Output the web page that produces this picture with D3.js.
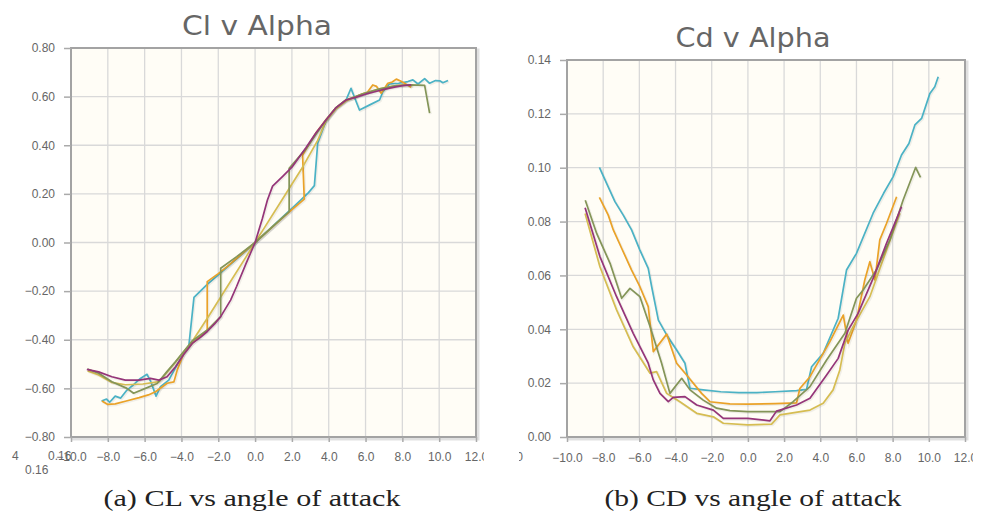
<!DOCTYPE html>
<html>
<head>
<meta charset="utf-8">
<script src="https://cdn.jsdelivr.net/npm/d3@7"></script>
<style>
  body { margin: 0; background: #fff; }
  svg { display: block; }
  .tick text { font-family: "Liberation Sans", Arial, sans-serif; font-size: 12px; fill: #666; }
</style>
</head>
<body>
<div id="chart"></div>
<script>
// angle of attack ticks
var alphaTicks = [-10, -8, -6, -4, -2, 0, 2, 4, 6, 8, 10, 12];
var clTicks = [-0.8, -0.6, -0.4, -0.2, 0, 0.2, 0.4, 0.6, 0.8];
var cdTicks = [0, 0.02, 0.04, 0.06, 0.08, 0.10, 0.12, 0.14];

var seriesColors = ["#4bb2c5", "#eaa228", "#d6bd52", "#849558", "#953579"];

// Cl v Alpha, [alpha, Cl]
var clTeal = [[-8.34,-0.652],[-8.07,-0.644],[-7.9,-0.657],[-7.6,-0.632],[-7.3,-0.64],[-6.96,-0.607],[-6.6,-0.585],
  [-6.23,-0.559],[-5.87,-0.542],[-5.68,-0.57],[-5.38,-0.632],[-5.14,-0.593],[-4.69,-0.566],[-4.32,-0.515],
  [-3.87,-0.455],[-3.6,-0.425],[-3.32,-0.226],[-2.6,-0.172],[-2,-0.133],[-1.5,-0.1],[-1,-0.067],[-0.5,-0.034],
  [0,0],[0.5,0.035],[1,0.07],[1.5,0.105],[2,0.14],[2.49,0.175],[2.9,0.205],[3.22,0.234],[3.4,0.408],
  [3.85,0.5],[4.4,0.555],[4.94,0.586],[5.21,0.634],[5.67,0.545],[6.2,0.565],[6.76,0.586],[6.94,0.62],
  [7.3,0.652],[7.8,0.655],[8.3,0.662],[8.57,0.669],[8.85,0.652],[9.21,0.674],[9.48,0.655],[9.8,0.666],
  [10.03,0.665],[10.2,0.657],[10.48,0.666]];
var clOrange = [[-8.32,-0.652],[-8.0,-0.666],[-7.6,-0.664],[-7.0,-0.652],[-6.3,-0.638],[-5.8,-0.627],[-5.41,-0.614],
  [-4.78,-0.579],[-4.41,-0.573],[-4.23,-0.525],[-3.9,-0.46],[-3.42,-0.415],[-2.9,-0.38],[-2.6,-0.362],
  [-2.6,-0.161],[-2,-0.128],[-1.5,-0.098],[-1,-0.065],[0,0],[1,0.068],[2,0.135],[2.67,0.178],[2.58,0.36],
  [3.3,0.45],[3.85,0.505],[4.4,0.555],[4.94,0.586],[5.5,0.6],[5.85,0.612],[6.1,0.618],[6.39,0.648],
  [6.6,0.642],[6.85,0.614],[7.21,0.655],[7.45,0.66],[7.67,0.672],[7.9,0.664],[8.12,0.655],[8.48,0.638]];
var clYellow = [[-9.1,-0.528],[-8.5,-0.545],[-7.8,-0.575],[-7.05,-0.585],[-6.1,-0.582],[-5.2,-0.572],[-4.3,-0.49],
  [-3.4,-0.405],[-2.5,-0.3],[-1.5,-0.18],[-0.5,-0.06],[0,0],[0.5,0.06],[1.5,0.18],[2.5,0.3],[3.4,0.42],
  [3.85,0.5],[4.4,0.55],[4.94,0.582],[5.85,0.612],[6.76,0.632],[7.67,0.645],[8.3,0.648],[8.55,0.645]];
var clOlive = [[-9.1,-0.52],[-8.5,-0.538],[-7.78,-0.573],[-6.96,-0.6],[-6.6,-0.62],[-5.96,-0.6],[-5.32,-0.58],
  [-4.78,-0.53],[-4.32,-0.49],[-3.42,-0.405],[-2.6,-0.36],[-1.87,-0.305],[-1.87,-0.106],[-1,-0.058],[0,0],
  [1,0.068],[1.85,0.127],[1.85,0.305],[2.76,0.385],[3.85,0.505],[4.4,0.555],[4.94,0.586],[5.85,0.612],
  [6.76,0.632],[7.67,0.645],[8.5,0.648],[9.21,0.646],[9.48,0.532]];
var clPurple = [[-9.14,-0.522],[-8.5,-0.532],[-7.78,-0.552],[-7.05,-0.566],[-6.32,-0.566],[-5.68,-0.559],[-5.23,-0.566],
  [-4.78,-0.552],[-4.32,-0.511],[-3.87,-0.46],[-3.42,-0.415],[-2.97,-0.39],[-2.6,-0.366],[-2.2,-0.335],
  [-1.87,-0.305],[-1.33,-0.237],[-1.0,-0.18],[-0.5,-0.088],[0,0],[0.4,0.1],[0.67,0.175],[0.95,0.232],
  [1.5,0.272],[2.0,0.31],[2.76,0.39],[3.3,0.45],[3.85,0.504],[4.4,0.555],[4.94,0.586],[5.5,0.598],
  [6,0.61],[6.5,0.62],[7,0.63],[7.5,0.638],[8,0.645],[8.48,0.648]];

// Cd v Alpha, [alpha, Cd]
var cdTeal = [[-8.21,0.1001],[-7.81,0.0942],[-7.35,0.0874],[-6.89,0.0824],[-6.43,0.0769],[-5.97,0.0694],[-5.51,0.0626],
  [-5.32,0.0558],[-4.95,0.0434],[-4.49,0.0379],[-3.94,0.0323],[-3.48,0.0274],[-3.3,0.0212],[-3.2,0.0181],
  [-2.47,0.0175],[-1.5,0.0168],[-0.5,0.0165],[0,0.0165],[0.5,0.0165],[1.5,0.0168],[2.69,0.0172],[3.24,0.0177],
  [3.52,0.0261],[4.16,0.0311],[4.99,0.0441],[5.45,0.062],[6.0,0.0682],[6.92,0.0831],[7.5,0.0905],[8.03,0.0967],
  [8.49,0.1047],[8.9,0.109],[9.23,0.1159],[9.6,0.1183],[10.06,0.1276],[10.33,0.1301],[10.52,0.1338]];
var cdOrange = [[-8.21,0.089],[-7.72,0.0824],[-7.44,0.0769],[-6.98,0.0701],[-6.43,0.062],[-5.97,0.0558],[-5.51,0.0484],
  [-5.23,0.0317],[-4.49,0.0382],[-3.94,0.0274],[-3.39,0.023],[-2.56,0.0162],[-2.1,0.0131],[-1,0.0123],[0,0.0122],
  [1.5,0.0124],[2.69,0.0127],[2.87,0.018],[3.43,0.0224],[4.53,0.0354],[5.27,0.0453],[5.54,0.0348],[6.0,0.0434],
  [6.46,0.0583],[6.74,0.0651],[7.02,0.0583],[7.29,0.0732],[7.66,0.0793],[8.22,0.0892]];
var cdYellow = [[-9.0,0.083],[-8.18,0.0632],[-7.26,0.0472],[-6.34,0.0335],[-5.41,0.0237],[-5.05,0.0243],[-4.49,0.0162],
  [-3.76,0.0131],[-2.83,0.0088],[-1.91,0.0075],[-1.36,0.0051],[0,0.0045],[1.31,0.0048],[1.77,0.0082],[3.43,0.01],
  [4.16,0.0125],[4.71,0.0175],[5.08,0.0249],[5.36,0.0348],[5.82,0.041],[6.74,0.0521],[7.66,0.0694],[8.4,0.0831]];
var cdOlive = [[-8.99,0.0879],[-8.36,0.0756],[-7.62,0.0645],[-6.98,0.0515],[-6.52,0.0552],[-5.97,0.0521],[-5.41,0.041],
  [-4.77,0.0274],[-4.31,0.0162],[-3.66,0.0218],[-3.2,0.0175],[-2.47,0.0137],[-1.73,0.0107],[-0.99,0.0098],[0,0.0094],
  [1.77,0.0094],[2.5,0.0131],[3.43,0.0187],[4.35,0.0286],[5.36,0.0385],[6.0,0.0515],[6.37,0.0546],[7.1,0.062],
  [7.85,0.0732],[8.58,0.088],[9.27,0.1001],[9.54,0.0964]];
var cdPurple = [[-9.0,0.0851],[-8.18,0.067],[-7.26,0.0521],[-6.34,0.0385],[-5.51,0.0274],[-5.23,0.0212],[-4.86,0.0162],
  [-4.4,0.0131],[-4.13,0.0147],[-3.48,0.015],[-2.83,0.0119],[-1.91,0.01],[-1.36,0.0069],[0,0.0069],[1.22,0.006],
  [1.58,0.0096],[2.69,0.0119],[3.43,0.0144],[4.35,0.023],[4.99,0.0292],[5.54,0.0397],[6.09,0.0459],[6.92,0.0589],
  [7.66,0.0719],[8.49,0.0855]];

var svg = d3.select("#chart").append("svg")
  .attr("width", 982)
  .attr("height", 516);

var defs = svg.append("defs");

function drawChart(opt) {
  defs.append("clipPath").attr("id", opt.id + "-clip")
    .append("rect").attr("x", opt.clip[0]).attr("y", 0)
    .attr("width", opt.clip[1] - opt.clip[0]).attr("height", 516);
  defs.append("clipPath").attr("id", opt.id + "-plot")
    .append("rect").attr("x", opt.left).attr("y", opt.top)
    .attr("width", opt.right - opt.left).attr("height", opt.bottom - opt.top);

  var g = svg.append("g").attr("clip-path", "url(#" + opt.id + "-clip)");

  var x = d3.scaleLinear().domain([-10, 12]).range([opt.left, opt.right]);
  var y = d3.scaleLinear().domain(opt.yDomain).range([opt.bottom, opt.top]);

  // shadow and background
  g.append("rect")
    .attr("x", opt.left + 2).attr("y", opt.top + 2)
    .attr("width", opt.right - opt.left).attr("height", opt.bottom - opt.top)
    .style("fill", "none").style("stroke", "rgba(0,0,0,0.12)").style("stroke-width", 3);
  g.append("rect")
    .attr("x", opt.left).attr("y", opt.top)
    .attr("width", opt.right - opt.left).attr("height", opt.bottom - opt.top)
    .style("fill", "#fffdf6");

  // grid
  g.append("g").selectAll("line").data(alphaTicks).enter().append("line")
    .attr("x1", function(d){ return x(d); }).attr("x2", function(d){ return x(d); })
    .attr("y1", opt.top).attr("y2", opt.bottom)
    .style("stroke", "#d9d9d9").style("stroke-width", 1.3);
  g.append("g").selectAll("line").data(opt.yTicks).enter().append("line")
    .attr("y1", function(d){ return y(d); }).attr("y2", function(d){ return y(d); })
    .attr("x1", opt.left).attr("x2", opt.right)
    .style("stroke", "#d9d9d9").style("stroke-width", 1.3);

  // lines
  var line = d3.line()
    .x(function(d){ return x(d[0]); })
    .y(function(d){ return y(d[1]); });
  var lines = g.append("g").attr("clip-path", "url(#" + opt.id + "-plot)");
  opt.series.forEach(function(s, i){
    lines.append("path").datum(s)
      .attr("d", line)
      .attr("transform", "translate(1,1)")
      .style("fill", "none").style("stroke", "rgba(0,0,0,0.06)").style("stroke-width", 2.5);
    lines.append("path").datum(s)
      .attr("d", line)
      .style("fill", "none")
      .style("stroke", seriesColors[i])
      .style("stroke-width", 1.7)
      .style("stroke-linejoin", "round");
  });

  // border
  g.append("rect")
    .attr("x", opt.left).attr("y", opt.top)
    .attr("width", opt.right - opt.left).attr("height", opt.bottom - opt.top)
    .style("fill", "none").style("stroke", "#a3a3a3").style("stroke-width", 2);

  // axes
  var yAxis = d3.axisLeft(y).tickValues(opt.yTicks).tickFormat(d3.format(".2f"))
    .tickSize(7).tickPadding(9);
  var yg = g.append("g").attr("transform", "translate(" + opt.left + ",0)").call(yAxis);
  yg.select(".domain").remove();
  yg.selectAll(".tick line").style("stroke", "#aaa").style("stroke-width", 1.5);

  var xAxis = d3.axisBottom(x).tickValues(alphaTicks).tickFormat(d3.format(".1f"))
    .tickSize(5).tickPadding(opt.xPad);
  var xg = g.append("g").attr("transform", "translate(0," + opt.bottom + ")").call(xAxis);
  xg.select(".domain").remove();
  xg.selectAll(".tick line").style("stroke", "#aaa").style("stroke-width", 1.5);

  // title
  g.append("text")
    .attr("x", opt.titleX).attr("y", opt.titleY)
    .attr("text-anchor", "middle")
    .attr("textLength", opt.titleW).attr("lengthAdjust", "spacingAndGlyphs")
    .style("font-family", "'DejaVu Sans', sans-serif")
    .style("font-size", "27px")
    .style("fill", "#666")
    .text(opt.title);

  // caption
  svg.append("text")
    .attr("x", opt.capX).attr("y", 506)
    .attr("text-anchor", "middle")
    .attr("textLength", 297).attr("lengthAdjust", "spacingAndGlyphs")
    .style("font-family", "'Liberation Serif', 'Times New Roman', serif")
    .style("font-size", "23px")
    .style("fill", "#222")
    .text(opt.caption);

  return g;
}

var gl = drawChart({
  id: "cl", clip: [0, 484],
  left: 71, right: 476, top: 48, bottom: 437,
  yDomain: [-0.8, 0.8], yTicks: clTicks, xPad: 10,
  series: [clTeal, clOrange, clYellow, clOlive, clPurple],
  title: "Cl v Alpha", titleX: 257, titleY: 35, titleW: 150,
  caption: "(a) CL vs angle of attack", capX: 252
});

var gr = drawChart({
  id: "cd", clip: [519, 973],
  left: 567, right: 965, top: 60, bottom: 437,
  yDomain: [0, 0.14], yTicks: cdTicks, xPad: 11,
  series: [cdTeal, cdOrange, cdYellow, cdOlive, cdPurple],
  title: "Cd v Alpha", titleX: 753, titleY: 47, titleW: 155,
  caption: "(b) CD vs angle of attack", capX: 753
});

// stray labels left over in the screenshot
var strayStyle = function(t){
  t.style("font-family", "'Liberation Sans', Arial, sans-serif").style("font-size", "12px").style("fill", "#666");
};
gl.append("text").attr("x", 12).attr("y", 460).text("4").call(strayStyle);
gl.append("text").attr("x", 48).attr("y", 460).text("0.16").call(strayStyle);
gl.append("text").attr("x", 25).attr("y", 474).text("0.16").call(strayStyle);
gr.append("text").attr("x", 523).attr("y", 461).attr("text-anchor", "end").text("0").call(strayStyle);
</script>
</body>
</html>
